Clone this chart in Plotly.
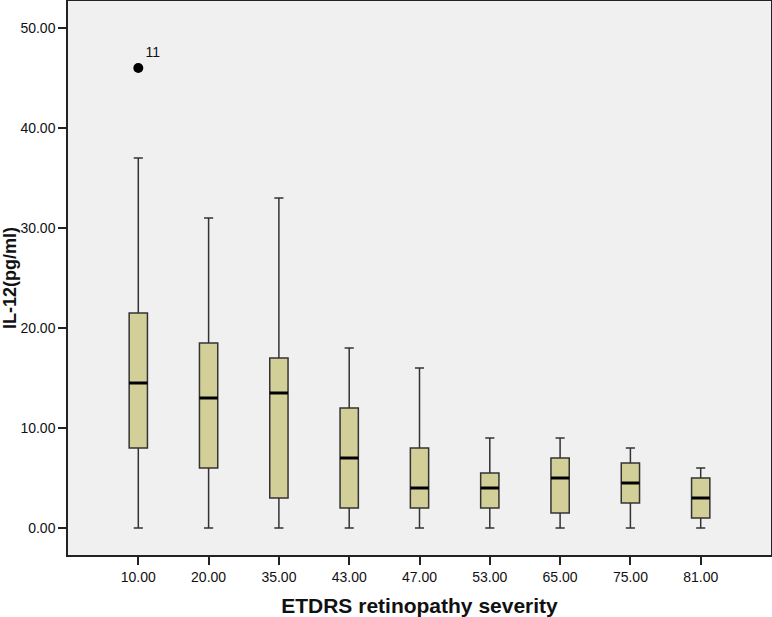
import plotly.graph_objects as go

categories = ["10.00", "20.00", "35.00", "43.00", "47.00", "53.00", "65.00", "75.00", "81.00"]
lower_whisker = [0, 0, 0, 0, 0, 0, 0, 0, 0]
q1_values = [8.0, 6.0, 3.0, 2.0, 2.0, 2.0, 1.5, 2.5, 1.0]
median_values = [14.5, 13.0, 13.5, 7.0, 4.0, 4.0, 5.0, 4.5, 3.0]
q3_values = [21.5, 18.5, 17.0, 12.0, 8.0, 5.5, 7.0, 6.5, 5.0]
upper_whisker = [37.0, 31.0, 33.0, 18.0, 16.0, 9.0, 9.0, 8.0, 6.0]
outlier_category = ["10.00"]
outlier_values = [46.0]
outlier_labels = ["11"]
y_ticks = [0, 10, 20, 30, 40, 50]

positions = list(range(len(categories)))
box_w = 0.26

fig = go.Figure()
fig.add_trace(go.Box(
    x=positions, q1=q1_values, median=median_values, q3=q3_values,
    lowerfence=lower_whisker, upperfence=upper_whisker,
    width=box_w, whiskerwidth=0.5, boxpoints=False,
    fillcolor="#D3CF99", line=dict(color="#333333", width=1.5),
    hoverinfo="skip", showlegend=False,
))

mx, my = [], []
for p, m in zip(positions, median_values):
    mx += [p - box_w / 2, p + box_w / 2, None]
    my += [m, m, None]
fig.add_trace(go.Scatter(x=mx, y=my, mode="lines",
                         line=dict(color="black", width=3), showlegend=False, hoverinfo="skip"))

ox = [categories.index(c) for c in outlier_category]
fig.add_trace(go.Scatter(x=ox, y=outlier_values, mode="markers+text",
                         text=outlier_labels, textposition="top right",
                         textfont=dict(family="Liberation Sans, Arial", size=14, color="#111"),
                         marker=dict(color="black", size=10), showlegend=False))

fig.update_layout(
    width=772, height=617,
    margin=dict(l=68, r=1, t=1, b=62, autoexpand=False),
    paper_bgcolor="white", plot_bgcolor="#F0F0F0",
    font=dict(family="Liberation Sans, Arial", color="#111111"),
)
fig.update_xaxes(
    range=[-1, 9], tickmode="array", tickvals=positions, ticktext=categories,
    showgrid=False, zeroline=False, automargin=False,
    showline=True, linecolor="#222222", linewidth=1.5, mirror=True,
    ticks="outside", ticklen=8, tickwidth=1.5, tickcolor="#222222",
    tickfont=dict(size=14),
    title=dict(text="<b>ETDRS retinopathy severity</b>", font=dict(size=21), standoff=15),
)
fig.update_yaxes(
    range=[-2.7, 52.7], tickmode="array", tickvals=y_ticks,
    ticktext=[f"{v:.2f}" for v in y_ticks],
    showgrid=False, zeroline=False, automargin=False,
    showline=True, linecolor="#222222", linewidth=1.5, mirror=True,
    ticks="outside", ticklen=8, tickwidth=1.5, tickcolor="#222222",
    tickfont=dict(size=14),
    title=dict(text="<b>IL-12(pg/ml)</b>", font=dict(size=18), standoff=0),
)
fig.write_html("out.html", config={"displayModeBar": False},
               post_script="document.body.style.margin='0';document.body.style.overflow='hidden';")
